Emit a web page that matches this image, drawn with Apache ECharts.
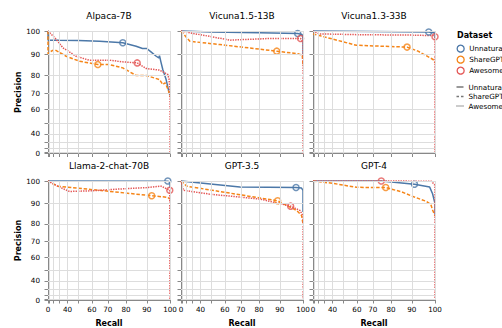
<!DOCTYPE html>
<html>
<head>
<meta charset="utf-8">
<script src="https://cdn.jsdelivr.net/npm/echarts@6/dist/echarts.min.js"></script>
<style>
  html, body { margin: 0; padding: 0; background: #fff; }
  #chart { width: 502px; height: 328px; }
</style>
</head>
<body>
<div id="chart"></div>
<script>
const models = ['Alpaca-7B', 'Vicuna1.5-13B', 'Vicuna1.3-33B', 'Llama-2-chat-70B', 'GPT-3.5', 'GPT-4'];
const datasets = ['Unnatural Instructions', 'ShareGPT', 'Awesome ChatGPT Prompts'];
const colors = ['#4c78a8', '#f58518', '#e45756'];
const tickValues = [0, 10, 20, 30, 40, 50, 60, 70, 80, 90, 100];
const labelValues = [0, 40, 60, 70, 80, 90, 100];

// curves are [recall, precision]
const alpacaUnnatural = [[0, 100], [3, 96.2], [30, 96.1], [50, 96], [65, 95.7], [72, 95.4], [78.3, 95.1], [85, 93.6], [88, 92.6], [90, 92.6], [92, 91], [94.2, 89.1], [95.3, 88.3], [95.6, 89.4], [96.2, 86.5], [97, 82.8], [98.4, 77.7], [99.6, 70.6], [100, 69]];
const alpacaShareGPT = [[0, 100], [0.8, 90.2], [10, 90.9], [23, 92.1], [38.6, 89.1], [50.8, 86.8], [63.9, 85.2], [71, 85.2], [78.3, 83.6], [85, 79.8], [89.7, 79.8], [95.6, 77.7], [97, 75], [98, 76], [99.3, 72], [100, 68]];
const alpacaAwesome = [[0, 100], [26, 96.5], [35, 92.9], [48, 89.1], [58, 87.3], [71, 87.3], [78, 86.5], [85.5, 86], [89.7, 83.3], [95.6, 82.5], [99.1, 80.3], [99.6, 78], [100, 72], [100, 0]];

const vicuna13Unnatural = [[0, 100], [50, 99.6], [80, 99.3], [97.8, 99], [99.6, 98.6], [100, 97], [100, 88]];
const vicuna13ShareGPT = [[0, 100], [27, 95.7], [56.5, 94.3], [88.6, 91.4], [98.1, 90.2], [99.7, 89.5], [100, 85]];
const vicuna13Awesome = [[0, 100], [31, 99], [44.8, 98.1], [63.4, 96.2], [85.4, 96.9], [99, 96.9], [100, 95], [100, 0]];

const vicuna33Unnatural = [[0, 100], [97.4, 99.6], [100, 99.2], [100, 97]];
const vicuna33ShareGPT = [[0, 98.8], [26, 97.9], [59.6, 94], [75, 93.6], [87.8, 93.2], [92.8, 91.4], [99.2, 87.6], [100, 86]];
const vicuna33Awesome = [[0, 100], [23, 98.8], [60, 98.5], [90, 98.3], [99.2, 98.1], [100, 97.6], [100, 0]];

const llamaUnnatural = [[0, 100], [99.1, 99.9], [100, 99.5], [100, 97]];
const llamaShareGPT = [[0, 100], [28, 97.8], [65, 96], [92.2, 93.6], [99.1, 92.9], [100, 92]];
const llamaAwesome = [[0, 100], [30, 97.5], [42, 95.5], [60, 95.8], [75, 96.5], [90, 97.2], [96.3, 97.8], [99.9, 96], [100, 0]];

const gpt35Unnatural = [[0, 100], [69.5, 97.4], [97.1, 97.2], [99.4, 97], [100, 96], [100, 86]];
const gpt35ShareGPT = [[0, 100], [21.6, 97.8], [89, 91.3], [97.4, 86.7], [99.4, 84.3], [100, 80]];
const gpt35Awesome = [[0, 100], [14, 96], [48.7, 94.3], [80.5, 92.1], [94.8, 88.8], [98.8, 86.7], [100, 84], [100, 0]];

const gpt4Unnatural = [[0, 100], [74.8, 100], [91.2, 98.6], [97.8, 97.4], [99, 94.5], [100, 90], [100, 85]];
const gpt4ShareGPT = [[0, 100], [40.5, 99], [59.6, 97.3], [77.2, 97.2], [85, 95.4], [91.2, 93], [96.5, 91], [98.3, 89.5], [99, 87], [100, 84]];
const gpt4Awesome = [[0, 100], [74.8, 100], [98.5, 99.9], [99.8, 98.5], [100, 97], [100, 0]];

// marked operating points: unnatural, sharegpt, awesome
const alpacaBest = [[78.3, 95.1], [63.9, 85.2], [85.5, 86]];
const vicuna13Best = [[97.8, 99], [88.6, 91.4], [99, 96.9]];
const vicuna33Best = [[97.4, 99.6], [87.8, 93.2], [100, 97.6]];
const llamaBest = [[99.1, 100], [92.2, 93.6], [99.9, 96]];
const gpt35Best = [[97.1, 97.2], [89, 91.3], [94.8, 88.8]];
const gpt4Best = [[91.2, 98.6], [77.2, 97.2], [74.8, 100]];

const curves = [
  [alpacaUnnatural, alpacaShareGPT, alpacaAwesome],
  [vicuna13Unnatural, vicuna13ShareGPT, vicuna13Awesome],
  [vicuna33Unnatural, vicuna33ShareGPT, vicuna33Awesome],
  [llamaUnnatural, llamaShareGPT, llamaAwesome],
  [gpt35Unnatural, gpt35ShareGPT, gpt35Awesome],
  [gpt4Unnatural, gpt4ShareGPT, gpt4Awesome],
];
const best = [alpacaBest, vicuna13Best, vicuna33Best, llamaBest, gpt35Best, gpt4Best];

// both axes use a pow(2) scale in the original
const sq = v => v * v / 100;
const unsq = v => Math.round(Math.sqrt(v * 100));
const toXY = p => [sq(p[0]), sq(p[1])];

const FONT = 'DejaVu Sans';
const dashes = ['solid', [3.5, 1.8], [1.4, 1.1]];
// small gray stroke-dash swatches for the second legend
const dashIcons = [
  'path://M0,0H14V3H0Z',
  'path://M0,0H5V3H0Z M9,0H14V3H9Z',
  'path://M0,0H2V3H0Z M4,0H6V3H4Z M8,0H10V3H8Z M12,0H14V3H12Z',
];
const colLeft = [48, 181, 313];
const rowTop = [31, 181];
const cellW = 122;
const cellH = 122.5;

const grids = [];
const xAxes = [];
const yAxes = [];
const graphics = [];
const gridSeries = [];
const lineSeries = [];
const pointSeries = [];

function axisBase(showLabels) {
  return {
    type: 'value',
    min: 0,
    max: 100,
    axisLine: { show: true, lineStyle: { color: '#888', width: 1 } },
    axisTick: { show: true, length: 3.5, customValues: tickValues.map(sq), lineStyle: { color: '#888' } },
    axisLabel: {
      show: showLabels,
      customValues: labelValues.map(sq),
      formatter: v => unsq(v),
      fontSize: 7.2,
      fontFamily: FONT,
      color: '#000',
      margin: 6,
    },
    splitLine: { show: false },
    nameLocation: 'middle',
    nameTextStyle: { fontFamily: FONT, fontWeight: 'bold', fontSize: 8, color: '#000' },
  };
}

// grid lines follow the pow scale, so they are drawn as mark lines at the tick values
const gridTicks = tickValues.filter(v => v > 0).map(sq);

models.forEach((model, i) => {
  const r = Math.floor(i / 3);
  const c = i % 3;
  grids.push({ left: colLeft[c], top: rowTop[r], width: cellW, height: cellH });

  const xa = axisBase(r === 1);
  xa.gridIndex = i;
  if (r === 1) {
    xa.name = 'Recall';
    xa.nameGap = 19;
  }
  xAxes.push(xa);

  const ya = axisBase(c === 0);
  ya.gridIndex = i;
  ya.axisLabel.margin = 8;
  if (c === 0) {
    ya.name = 'Precision';
    ya.nameGap = 26;
  }
  yAxes.push(ya);

  graphics.push({
    type: 'text',
    x: colLeft[c] + cellW / 2,
    y: rowTop[r] - 15,
    style: { text: model, fontFamily: FONT, fontSize: 9, fill: '#000', align: 'center', verticalAlign: 'middle' },
  });

  gridSeries.push({
    type: 'line',
    name: 'grid',
    xAxisIndex: i,
    yAxisIndex: i,
    data: [[0, 0]],
    symbol: 'none',
    z: 1,
    silent: true,
    lineStyle: { width: 0 },
    markLine: {
      silent: true,
      symbol: 'none',
      animation: false,
      label: { show: false },
      lineStyle: { color: '#ddd', width: 1, type: 'solid' },
      emphasis: { disabled: true },
      data: gridTicks.map(v => ({ xAxis: v })).concat(gridTicks.map(v => ({ yAxis: v }))),
    },
  });

  datasets.forEach((name, k) => {
    lineSeries.push({
      type: 'line',
      name: name,
      xAxisIndex: i,
      yAxisIndex: i,
      data: curves[i][k].map(toXY),
      symbol: 'none',
      clip: false,
      z: 2 + k * 0.1,
      lineStyle: { color: colors[k], width: 1.5, type: dashes[k] },
      itemStyle: { color: colors[k] },
    });
    pointSeries.push({
      type: 'scatter',
      name: name,
      xAxisIndex: i,
      yAxisIndex: i,
      data: [toXY(best[i][k])],
      symbol: 'circle',
      symbolSize: 6,
      clip: false,
      z: 3,
      itemStyle: { color: 'rgba(0,0,0,0)', borderColor: colors[k], borderWidth: 1.5 },
    });
  });
});

graphics.push({
  type: 'text',
  x: 457,
  y: 35,
  style: { text: 'Dataset', fontFamily: FONT, fontSize: 8, fontWeight: 'bold', fill: '#000', align: 'left', verticalAlign: 'middle' },
});

const chart = echarts.init(document.getElementById('chart'), null, { renderer: 'svg' });
chart.setOption({
  animation: false,
  textStyle: { fontFamily: FONT },
  grid: grids,
  xAxis: xAxes,
  yAxis: yAxes,
  graphic: graphics,
  legend: [
    {
      orient: 'vertical',
      left: 456.5,
      top: 44.5,
      padding: 0,
      itemWidth: 7,
      itemHeight: 7,
      itemGap: 2.7,
      selectedMode: false,
      textStyle: { fontFamily: FONT, fontSize: 7.2, color: '#000' },
      data: datasets.map((name, k) => ({
        name: name,
        icon: 'circle',
        itemStyle: { color: 'rgba(0,0,0,0)', borderColor: colors[k], borderWidth: 1.3 },
      })),
    },
    {
      orient: 'vertical',
      left: 456.5,
      top: 83.5,
      padding: 0,
      itemWidth: 7,
      itemHeight: 1.5,
      itemGap: 2.5,
      selectedMode: false,
      textStyle: { fontFamily: FONT, fontSize: 7.2, color: '#000' },
      data: datasets.map((name, k) => ({
        name: name,
        icon: dashIcons[k],
        itemStyle: { color: '#777', borderWidth: 0 },
      })),
    },
  ],
  series: lineSeries.concat(gridSeries, pointSeries),
});
</script>
</body>
</html>
